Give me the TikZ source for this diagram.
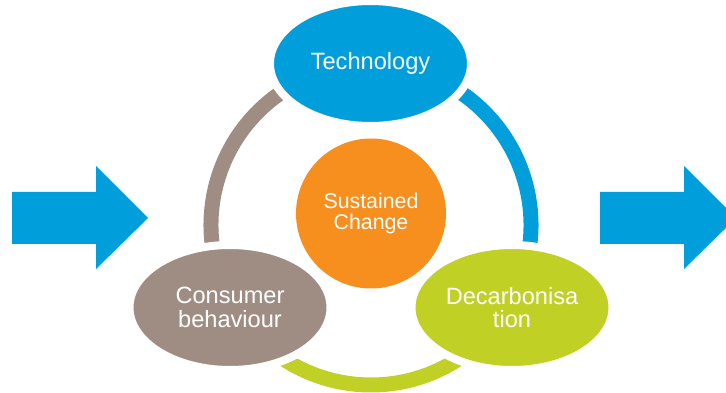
\documentclass[tikz,border=0pt]{standalone}
\usepackage{fontspec}
\setmainfont{Liberation Sans}
\usetikzlibrary{shapes.geometric}
\definecolor{techblue}{RGB}{0,158,219}
\definecolor{coreorange}{RGB}{247,143,30}
\definecolor{usergrey}{RGB}{159,141,132}
\definecolor{carbgreen}{RGB}{192,208,37}
\tikzset{
  bubble/.style={ellipse, draw=white, line width=6pt, inner sep=0pt,
    minimum width=150.75pt, minimum height=93.75pt, text=white, align=center,
    font=\fontsize{17.7}{17.5}\selectfont},
  ringpart/.style={line width=11.25pt},
  bigarrow/.style={fill=techblue}
}
\begin{document}
\begin{tikzpicture}[x=0.75pt,y=0.75pt]
				\useasboundingbox (0,0) rectangle (726,393);
				
				% arrows in and out
				\fill[bigarrow] (12,149) -- (96,149) -- (96,124) -- (148,175) -- (96,227) -- (96,201) -- (12,201) -- cycle;
				\fill[bigarrow] (600,149) -- (684,149) -- (684,124) -- (736,175) -- (684,227) -- (684,201) -- (600,201) -- cycle;
				
				% ring
				\coordinate (ring) at (371,168);
				\draw[ringpart, usergrey] (ring) ++(115:120pt) arc[start angle=115, end angle=195, radius=120pt];
				\draw[ringpart, techblue] (ring) ++(65:120pt) arc[start angle=65, end angle=-15, radius=120pt];
				\draw[ringpart, carbgreen] (ring) ++(230:120pt) arc[start angle=230, end angle=310, radius=120pt];
				
				% bubbles
				\node[bubble, fill=techblue] (tech) at (370.5,329.5) {Technology};
				\node[bubble, fill=usergrey] (consumer) at (230,85.5) {Consumer\\behaviour};
				\node[bubble, fill=carbgreen] (decarb) at (512,85.5) {Decarbonisa\\tion};
				\node[circle, fill=coreorange, minimum size=112.5pt, inner sep=0pt, text=white, align=center,
				      font=\fontsize{16}{16.3}\selectfont] (core) at (371,179.5) {Sustained\\Change};
\end{tikzpicture}
\end{document}
